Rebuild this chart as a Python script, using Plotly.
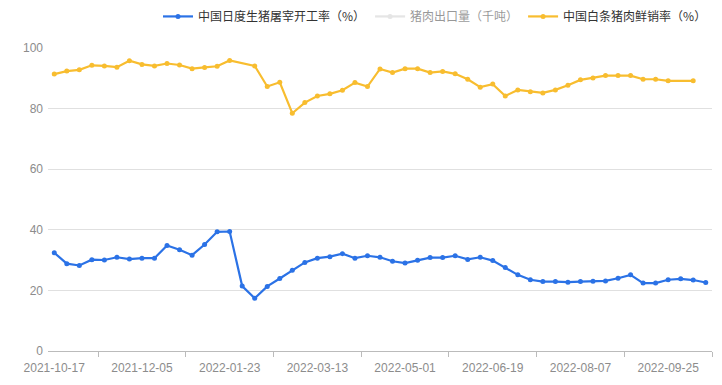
import pandas as pd
import plotly.graph_objects as go

dates = [d.strftime("%Y-%m-%d") for d in pd.date_range("2021-10-17", periods=53, freq="7D")]

slaughter_rate = [32.4, 28.8, 28.2, 30.1, 30.0, 30.9, 30.3, 30.6, 30.6, 34.8,
                  33.4, 31.6, 35.1, 39.3, 39.4, 21.4, 17.4, 21.3, 23.9, 26.6,
                  29.2, 30.6, 31.1, 32.1, 30.6, 31.4, 30.9, 29.6, 29.0, 29.9,
                  30.8, 30.8, 31.4, 30.2, 30.9, 29.8, 27.5, 25.1, 23.5, 22.9,
                  22.9, 22.7, 22.9, 23.0, 23.1, 24.0, 25.1, 22.4, 22.4, 23.5,
                  23.8, 23.4, 22.6]

export_volume = [None] * 53

sales_rate = [91.3, 92.3, 92.7, 94.2, 94.0, 93.6, 95.7, 94.5, 94.0, 94.8,
              94.3, 93.1, 93.5, 93.9, 95.8, None, 94.0, 87.2, 88.6, 78.4,
              81.9, 84.1, 84.8, 86.0, 88.5, 87.2, 93.0, 91.8, 93.1, 93.1,
              91.8, 92.2, 91.4, 89.6, 87.0, 88.0, 84.1, 86.1, 85.5, 85.1,
              86.1, 87.6, 89.4, 90.0, 90.8, 90.8, 90.8, 89.6, 89.6, 89.1,
              None, 89.1, None]

names = ["中国日度生猪屠宰开工率（%）", "猪肉出口量（千吨）", "中国白条猪肉鲜销率（%）"]
colors = ["#2b72e6", "#cccccc", "#f8bd2f"]

idx = list(range(len(dates)))
label_idx = idx[::7]

fig = go.Figure()
fig.add_trace(go.Scatter(x=idx, y=slaughter_rate, name=names[0], mode="lines+markers",
                         line=dict(color=colors[0], width=2.2), marker=dict(size=5, color=colors[0]),
                         connectgaps=True))
fig.add_trace(go.Scatter(x=idx, y=export_volume, name=names[1], mode="lines+markers",
                         line=dict(color=colors[1], width=2.2), marker=dict(size=5, color=colors[1]),
                         visible="legendonly"))
fig.add_trace(go.Scatter(x=idx, y=sales_rate, name=names[2], mode="lines+markers",
                         line=dict(color=colors[2], width=2.2), marker=dict(size=5, color=colors[2]),
                         connectgaps=True))

fig.update_layout(
    width=722, height=385,
    margin=dict(l=48, r=10, t=44, b=33),
    plot_bgcolor="white", paper_bgcolor="white",
    font=dict(family="Noto Sans CJK SC, Noto Sans, sans-serif", size=12, color="#333"),
    showlegend=True,
    legend=dict(orientation="h", x=1, xanchor="right", y=0.995, yanchor="top",
                yref="container", font=dict(size=12, color="#333"),
                itemwidth=30, bgcolor="rgba(0,0,0,0)"),
    hovermode="x",
)

fig.update_xaxes(
    range=[-0.5, len(dates) - 0.5],
    tickvals=label_idx, ticktext=[dates[i] for i in label_idx],
    ticks="", showgrid=False, zeroline=False,
    showline=True, linecolor="#bbbbbb", linewidth=1,
    ticklabelstandoff=6,
    tickfont=dict(size=12, color="#8c8c8c", family="Liberation Sans, Arial, sans-serif"),
    minor=dict(tick0=3.5, dtick=7, ticks="outside", ticklen=5, tickcolor="#bbbbbb", showgrid=False),
)
fig.update_yaxes(
    range=[0, 100], dtick=20, showgrid=True, gridcolor="#e0e0e0", gridwidth=1,
    zeroline=False, showline=False, ticks="",
    ticklabelstandoff=4,
    tickfont=dict(size=12, color="#8c8c8c", family="Liberation Sans, Arial, sans-serif"),
)

fig.write_html("out.html")
